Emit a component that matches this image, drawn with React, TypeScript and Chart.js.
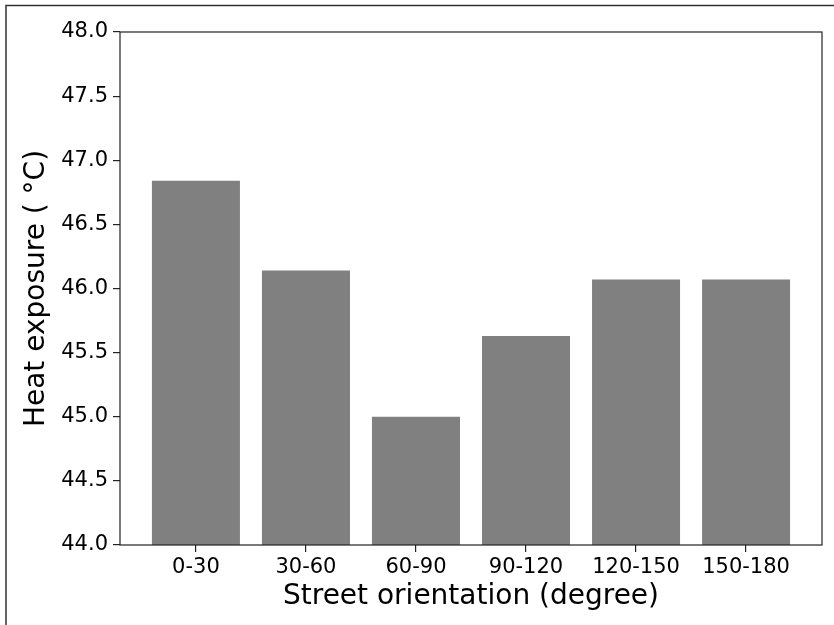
import React, { useEffect, useRef } from "react";
import { Chart, registerables } from "chart.js";

Chart.register(...registerables);

const categories = ["0-30", "30-60", "60-90", "90-120", "120-150", "150-180"];
const heatExposure = [46.84, 46.14, 45.0, 45.63, 46.07, 46.07];
const yTicks = [44.0, 44.5, 45.0, 45.5, 46.0, 46.5, 47.0, 47.5, 48.0];

const FONT = "'DejaVu Sans', sans-serif";

const framePlugin = {
  id: "frame",
  beforeDraw(chart: any) {
    const ctx = chart.ctx;
    ctx.save();
    ctx.fillStyle = "#ffffff";
    ctx.fillRect(0, 0, chart.width, chart.height);
    // outer image border (top and left)
    ctx.strokeStyle = "#333333";
    ctx.lineWidth = 1.5;
    ctx.beginPath();
    ctx.moveTo(6, chart.height);
    ctx.lineTo(6, 5.5);
    ctx.lineTo(chart.width, 5.5);
    ctx.stroke();
    ctx.restore();
  },
  afterDatasetsDraw(chart: any) {
    const { left, top, right, bottom } = chart.chartArea;
    const ctx = chart.ctx;
    ctx.save();
    ctx.strokeStyle = "#222222";
    ctx.lineWidth = 1.2;
    ctx.strokeRect(left, top, right - left, bottom - top);
    ctx.restore();
  },
};

export default function App() {
  const ref = useRef<HTMLCanvasElement>(null);
  useEffect(() => {
    if (!ref.current) return;
    const n = categories.length;
    const chart = new Chart(ref.current, {
      type: "bar",
      data: {
        datasets: [
          {
            data: heatExposure.map((v, i) => ({ x: i, y: v })),
            backgroundColor: "#808080",
            borderWidth: 0,
            barPercentage: 0.8,
            categoryPercentage: 1,
          },
        ],
      },
      plugins: [framePlugin],
      options: {
        animation: false,
        responsive: false,
        events: [],
        layout: { padding: { left: 0, top: 32, right: 12, bottom: 0 } },
        plugins: { legend: { display: false }, tooltip: { enabled: false } },
        scales: {
          x: {
            type: "linear",
            offset: false,
            min: -0.69,
            max: n - 1 + 0.69,
            afterFit: (s: any) => {
              s.height = 80;
            },
            afterBuildTicks: (s: any) => {
              s.ticks = categories.map((_, i) => ({ value: i }));
            },
            ticks: {
              callback: (v: any) => categories[v] ?? "",
              font: { family: FONT, size: 21 },
              color: "#000000",
              padding: 3,
              maxRotation: 0,
              autoSkip: false,
            },
            grid: {
              offset: false,
              drawOnChartArea: false,
              drawTicks: true,
              tickLength: 7,
              color: "#222222",
              lineWidth: 1.2,
            },
            border: { display: false },
            title: {
              display: true,
              text: "Street orientation (degree)",
              font: { family: FONT, size: 28 },
              color: "#000000",
              padding: { top: 0, bottom: 11 },
            },
          },
          y: {
            min: 44,
            max: 48,
            afterFit: (s: any) => {
              s.width = 120;
            },
            afterBuildTicks: (s: any) => {
              s.ticks = yTicks.map((v) => ({ value: v }));
            },
            ticks: {
              callback: (v: any) => Number(v).toFixed(1),
              font: { family: FONT, size: 21 },
              color: "#000000",
              padding: 5,
            },
            grid: {
              drawOnChartArea: false,
              drawTicks: true,
              tickLength: 7,
              color: "#222222",
              lineWidth: 1.2,
            },
            border: { display: false },
            title: {
              display: true,
              text: "Heat exposure ( \u00B0C)",
              font: { family: FONT, size: 28 },
              color: "#000000",
              padding: { top: 20, bottom: 0 },
            },
          },
        },
      },
    });
    return () => chart.destroy();
  }, []);
  return (
    <canvas
      ref={ref}
      width={834}
      height={625}
      style={{ position: "fixed", left: 0, top: 0, width: 834, height: 625 }}
    />
  );
}
